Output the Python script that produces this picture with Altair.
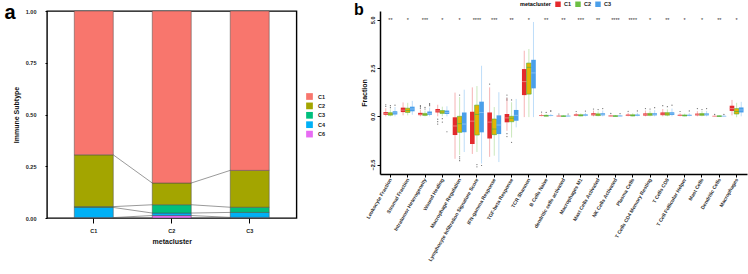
import altair as alt
import pandas as pd

FONT = "Liberation Sans"

# ---------------- panel a: immune subtype share per metacluster ----------------
metaclusters = ["C1", "C2", "C3"]
subtypes = ["C1", "C2", "C3", "C4", "C6"]
share_C1 = [0.695, 0.831, 0.770]
share_C2 = [0.250, 0.105, 0.178]
share_C3 = [0.004, 0.040, 0.025]
share_C4 = [0.049, 0.012, 0.024]
share_C6 = [0.002, 0.012, 0.003]
subtype_colors = ["#F8766D", "#A3A500", "#00BF7D", "#00B0F6", "#E76BF3"]

shares = {"C1": share_C1, "C2": share_C2, "C3": share_C3, "C4": share_C4, "C6": share_C6}
stack_order = ["C6", "C4", "C3", "C2", "C1"]  # bottom to top

seg_rows, tops = [], {}
for i, m in enumerate(metaclusters):
    base = 0.0
    for s in stack_order:
        v = shares[s][i]
        seg_rows.append({"metacluster": m, "subtype": s, "y0": base, "y1": base + v})
        base += v
        tops[(m, s)] = base
segments = pd.DataFrame(seg_rows)

# connectors between the segment boundaries of neighbouring bars
link_rows = []
for left, right in zip(metaclusters[:-1], metaclusters[1:]):
    for s in stack_order[:-1]:
        link_rows.append({"from": left, "to": right,
                          "y_from": tops[(left, s)], "y_to": tops[(right, s)]})
links = pd.DataFrame(link_rows)

xa_scale = alt.Scale(domain=metaclusters, paddingInner=0.5, paddingOuter=0.35)
ya_scale = alt.Scale(domain=[0, 1], nice=False)

bars = alt.Chart(segments).mark_bar(stroke="#4a4a4a", strokeWidth=0.5).encode(
    x=alt.X("metacluster:N", scale=xa_scale,
            axis=alt.Axis(title="metacluster", labelAngle=0, tickSize=5, labelPadding=5,
                          titlePadding=4, domain=False, tickColor="black",
                          labelFontSize=5.5, titleFontSize=7)),
    y=alt.Y("y0:Q", scale=ya_scale,
            axis=alt.Axis(title="Immune Subtype", values=[0, 0.25, 0.5, 0.75, 1.0],
                          format=".2f", tickSize=2, labelPadding=9, titlePadding=6,
                          domain=False, grid=False, tickColor="black",
                          labelFontSize=5.5, titleFontSize=7)),
    y2="y1:Q",
    color=alt.Color("subtype:N", scale=alt.Scale(domain=subtypes, range=subtype_colors),
                    legend=alt.Legend(title=None, orient="none", legendX=259, legendY=82,
                                      symbolType="square", symbolSize=45,
                                      symbolStrokeWidth=0, labelFontSize=5.5,
                                      labelOffset=5, rowPadding=2.4)),
)

connectors = alt.Chart(links).mark_rule(color="#555555", strokeWidth=0.6).encode(
    x=alt.X("from:N", scale=xa_scale, bandPosition=1),
    x2=alt.X2("to:N", bandPosition=0),
    y=alt.Y("y_from:Q", scale=ya_scale),
    y2="y_to:Q",
)

tag_a = alt.Chart(pd.DataFrame({"t": ["a"]})).mark_text(
    fontSize=20, fontWeight="bold", align="left", baseline="alphabetic", font=FONT, color="black"
).encode(text="t:N", x=alt.value(-42.5), y=alt.value(8))

panel_a = alt.layer(bars, connectors, tag_a).properties(
    width=249.5, height=207,
    view=alt.ViewBackground(stroke="black", strokeWidth=1.4),
)

# ---------------- panel b: signature scores by metacluster ----------------
features = ["Leukocyte Fraction", "Stromal Fraction", "Intratumor Heterogeneity",
            "Wound Healing", "Macrophage Regulation",
            "Lymphocyte Infiltration Signature Score", "IFN-gamma Response",
            "TGF-beta Response", "TCR Shannon", "B Cells Naive",
            "dendritic cells activated", "Macrophages M1", "Mast Cells Activated",
            "NK Cells Activated", "Plasma Cells", "T Cells CD4 Memory Resting",
            "T Cells CD8", "T Cell Follicular Helper", "Mast Cells", "Dendritic Cells",
            "Macrophages"]
signif = ["**", "*", "***", "*", "*", "****", "***", "**", "*", "**", "**", "***",
          "**", "****", "****", "*", "**", "*", "*", "**", "*"]
groups = ["C1", "C2", "C3"]

c1_lo = [0.00, 0.05, 0.00, 0.00, -2.20, -1.95, -2.10, -0.75, -0.04, 0.00, 0.00, 0.00, 0.00, 0.00, 0.00, 0.00, 0.00, 0.00, 0.00, 0.00, 0.05]
c1_q1 = [0.08, 0.22, 0.06, 0.20, -0.97, -1.44, -1.15, -0.31, 1.10, 0.02, 0.00, 0.03, 0.05, 0.00, 0.02, 0.04, 0.06, 0.02, 0.05, 0.00, 0.28]
c1_med = [0.15, 0.32, 0.10, 0.28, -0.50, -0.25, -0.30, -0.08, 1.80, 0.04, 0.01, 0.06, 0.10, 0.02, 0.05, 0.09, 0.12, 0.05, 0.09, 0.01, 0.40]
c1_q3 = [0.22, 0.45, 0.18, 0.38, -0.05, 0.24, 0.20, 0.12, 2.45, 0.07, 0.03, 0.10, 0.16, 0.04, 0.09, 0.15, 0.20, 0.08, 0.14, 0.02, 0.55]
c1_hi = [0.42, 0.72, 0.35, 0.60, 1.23, 1.50, 1.50, 0.95, 3.40, 0.14, 0.07, 0.18, 0.30, 0.09, 0.18, 0.30, 0.38, 0.16, 0.27, 0.05, 0.85]

c2_lo = [0.00, 0.05, 0.00, 0.00, -2.00, -1.85, -2.04, -1.10, -0.04, 0.00, 0.00, 0.00, 0.00, 0.00, 0.00, 0.00, 0.00, 0.00, 0.00, 0.00, -0.05]
c2_q1 = [0.06, 0.20, 0.05, 0.15, -0.83, -0.97, -0.95, -0.28, 1.15, 0.01, 0.00, 0.02, 0.04, 0.00, 0.02, 0.05, 0.06, 0.02, 0.05, 0.00, 0.12]
c2_med = [0.12, 0.30, 0.09, 0.22, -0.38, 0.10, -0.66, -0.10, 2.54, 0.03, 0.01, 0.05, 0.08, 0.01, 0.04, 0.10, 0.12, 0.04, 0.10, 0.01, 0.25]
c2_q3 = [0.19, 0.42, 0.15, 0.30, 0.00, 0.58, -0.14, 0.00, 2.76, 0.05, 0.02, 0.08, 0.13, 0.03, 0.08, 0.15, 0.19, 0.07, 0.14, 0.02, 0.40]
c2_hi = [0.36, 0.70, 0.30, 0.50, 1.00, 1.57, 0.48, 0.73, 3.49, 0.10, 0.05, 0.15, 0.25, 0.07, 0.16, 0.30, 0.36, 0.14, 0.27, 0.04, 0.70]

c3_lo = [0.00, 0.08, 0.00, 0.00, -1.85, -2.45, -2.37, -0.57, -0.04, 0.00, 0.00, 0.00, 0.00, 0.00, 0.00, 0.00, 0.00, 0.00, 0.00, 0.00, 0.00]
c3_q1 = [0.10, 0.26, 0.08, 0.12, -0.83, -0.83, -0.92, -0.23, 1.45, 0.02, 0.00, 0.03, 0.05, 0.00, 0.02, 0.05, 0.07, 0.02, 0.05, 0.00, 0.20]
c3_med = [0.18, 0.38, 0.14, 0.20, -0.40, 0.20, -0.45, 0.05, 2.25, 0.04, 0.01, 0.06, 0.10, 0.02, 0.05, 0.10, 0.13, 0.05, 0.10, 0.01, 0.33]
c3_q3 = [0.26, 0.50, 0.25, 0.30, 0.20, 0.76, 0.05, 0.33, 2.93, 0.06, 0.03, 0.10, 0.16, 0.04, 0.09, 0.16, 0.21, 0.08, 0.15, 0.02, 0.46]
c3_hi = [0.48, 0.80, 0.45, 0.52, 1.38, 2.62, 1.25, 0.90, 4.89, 0.12, 0.07, 0.18, 0.30, 0.09, 0.18, 0.32, 0.40, 0.16, 0.28, 0.05, 0.75]

# outlying samples: feature index, metacluster, value
out_feature = [0, 0, 0, 0, 0, 2, 2, 2, 2, 2, 2, 2, 2, 3, 3, 3, 3, 3, 3,
               4, 4, 4, 4, 5, 5, 5, 6, 7, 7, 7, 7, 7, 7, 7,
               9, 9, 9, 9, 10, 10, 11, 11, 12, 12, 12, 13, 13, 14, 14,
               15, 15, 15, 16, 16, 16, 17, 17, 18, 18, 18, 19, 19]
out_group = ["C1", "C1", "C2", "C2", "C3", "C1", "C1", "C1", "C2", "C2", "C3", "C3", "C3",
             "C1", "C1", "C1", "C2", "C2", "C3",
             "C2", "C2", "C2", "C2", "C2", "C2", "C3", "C1", "C1", "C1", "C1", "C1", "C1", "C2", "C2",
             "C1", "C2", "C3", "C3", "C1", "C3", "C1", "C3", "C1", "C2", "C3", "C1", "C3", "C1", "C3",
             "C1", "C2", "C3", "C1", "C2", "C3", "C1", "C3", "C1", "C2", "C3", "C1", "C3"]
out_value = [0.52, 0.60, 0.45, 0.55, 0.58, 0.42, 0.50, 0.56, 0.38, 0.46, 0.55, 0.62, 0.66,
             -0.15, -0.28, -0.40, -0.12, -0.30, -0.80,
             1.10, -2.10, -2.20, -2.30, -2.50, -2.62, -2.55, 1.67, 1.10, 0.95, 0.85, -0.90, -1.05, 0.85, -1.35,
             0.22, 0.20, 0.25, 0.30, 0.12, 0.12, 0.25, 0.27, 0.38, 0.35, 0.40, 0.15, 0.14, 0.26, 0.28,
             0.40, 0.38, 0.45, 0.55, 0.50, 0.58, 0.25, 0.28, 0.40, 0.35, 0.40, 0.10, 0.10]

group_colors = ["#E42A2D", "#6CBF44", "#4A9FEA"]
box_gold = "#E3B505"
box_green_edge = "#4DB33E"
median_colors = ["#F59A9B", "#4DB33E", "#9CCBF6"]

stats = {"C1": (c1_lo, c1_q1, c1_med, c1_q3, c1_hi),
         "C2": (c2_lo, c2_q1, c2_med, c2_q3, c2_hi),
         "C3": (c3_lo, c3_q1, c3_med, c3_q3, c3_hi)}
box_rows = []
for g in groups:
    lo, q1, med, q3, hi = stats[g]
    for i, f in enumerate(features):
        box_rows.append({"feature": f, "group": g, "lo": lo[i], "q1": q1[i],
                         "med": med[i], "q3": q3[i], "hi": hi[i]})
boxes_df = pd.DataFrame(box_rows)
outliers_df = pd.DataFrame({"feature": [features[i] for i in out_feature],
                            "group": out_group, "value": out_value})
stars_df = pd.DataFrame({"feature": features, "stars": signif, "level": [5.0] * len(features)})

xb_scale = alt.Scale(domain=features, paddingInner=0.2, paddingOuter=0.2)
yb_scale = alt.Scale(domain=[-2.99, 5.46], nice=False, zero=False)
xb = alt.X("feature:N", scale=xb_scale, sort=features,
           axis=alt.Axis(title=None, labelAngle=-60, labelAlign="right", labelBaseline="middle",
                         labelFontSize=5, labelColor="#333333", tickSize=3, tickColor="black",
                         labelPadding=1, domainColor="black", domainWidth=1.5, labelLimit=200))
xoff = alt.XOffset("group:N", scale=alt.Scale(domain=groups, paddingInner=0, paddingOuter=0))
yb_axis = alt.Axis(title="Fraction", values=[-2.5, 0, 2.5, 5.0], format=".1f",
                   labelAngle=-90, labelAlign="center", labelBaseline="bottom",
                   labelFontSize=5.5, titleFontSize=7, tickSize=3, tickColor="black",
                   labelPadding=2, titlePadding=3, grid=False,
                   domainColor="black", domainWidth=1.5)

# whisker and median scales take their domain from the data, so their (hidden)
# legends stay apart from the metacluster fill legend
whiskers = alt.Chart(boxes_df).mark_rule(strokeWidth=0.8, opacity=0.45).encode(
    x=xb, xOffset=xoff,
    y=alt.Y("lo:Q", scale=yb_scale, axis=yb_axis), y2="hi:Q",
    stroke=alt.Stroke("group:N", scale=alt.Scale(range=group_colors), legend=None),
)

boxes = alt.Chart(boxes_df).mark_bar(strokeWidth=0.6).encode(
    x=xb, xOffset=xoff,
    y=alt.Y("q1:Q", scale=yb_scale), y2="q3:Q",
    stroke=alt.condition("datum.group === 'C2'", alt.value(box_green_edge), alt.value("transparent")),
    fill=alt.condition(
        "datum.group === 'C2'", alt.value(box_gold),
        alt.Fill("group:N", scale=alt.Scale(domain=groups, range=group_colors),
                 legend=alt.Legend(title="metacluster", orient="none", legendX=140, legendY=-10,
                                   direction="horizontal", titleOrient="left",
                                   symbolType="square", symbolSize=30, symbolStrokeWidth=0,
                                   titleFontSize=5.5, labelFontSize=5.5, labelOffset=3,
                                   columnPadding=3, titlePadding=4)),
    ),
)

medians = alt.Chart(boxes_df).mark_tick(orient="horizontal", thickness=1.0, size=4.6).encode(
    x=xb, xOffset=xoff,
    y=alt.Y("med:Q", scale=yb_scale),
    color=alt.Color("group:N", scale=alt.Scale(range=median_colors), legend=None),
)

outlier_pts = alt.Chart(outliers_df).mark_circle(size=1.5, color="#444444", opacity=0.8).encode(
    x=xb, xOffset=xoff,
    y=alt.Y("value:Q", scale=yb_scale),
)

stars = alt.Chart(stars_df).mark_text(fontSize=5.5, color="#333333", baseline="middle").encode(
    x=xb, y=alt.Y("level:Q", scale=yb_scale), text="stars:N",
)

tag_b = alt.Chart(pd.DataFrame({"t": ["b"]})).mark_text(
    fontSize=16, fontWeight="bold", align="left", baseline="alphabetic", font=FONT, color="black"
).encode(text="t:N", x=alt.value(-26), y=alt.value(4))

panel_b = alt.layer(whiskers, boxes, medians, outlier_pts, stars, tag_b).properties(
    width=367, height=163,
    view=alt.ViewBackground(stroke="transparent"),
)

chart = alt.hconcat(panel_a, panel_b, spacing=83, bounds="flush").resolve_scale(
    x="independent", y="independent", color="independent",
    fill="independent", stroke="independent",
).configure(
    padding={"left": 3, "top": 0, "right": 0, "bottom": 0},
    font=FONT,
).configure_axis(
    labelFont=FONT, titleFont=FONT, labelFontWeight="bold", titleFontWeight="bold",
    labelColor="#222222", titleColor="#111111",
).configure_legend(
    labelFont=FONT, titleFont=FONT, labelFontWeight="bold", titleFontWeight="bold",
    labelColor="#222222",
)

chart.save("out.html", embed_options={"renderer": "svg", "actions": False})
